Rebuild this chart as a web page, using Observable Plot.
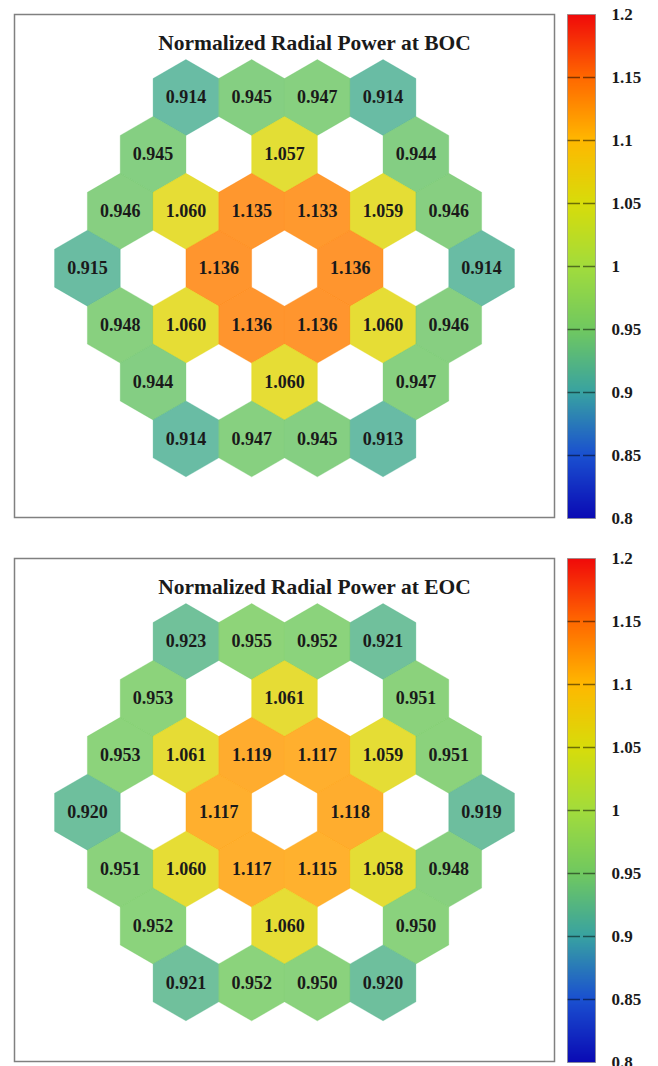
<!DOCTYPE html>
<html>
<head>
<meta charset="utf-8">
<script src="https://cdn.jsdelivr.net/npm/d3@7"></script>
<script src="https://cdn.jsdelivr.net/npm/@observablehq/plot@0.6"></script>
<style>
  html, body { margin: 0; padding: 0; background: #fff; }
  #root { position: relative; width: 658px; height: 1066px; overflow: hidden; }
  .abs { position: absolute; }
  svg { overflow: visible; }
</style>
</head>
<body>
<div id="root"></div>
<script>
// ---------- data ----------
// assembly positions (axial: column offset in hex widths, row offset in hex rows)
const asmCol = [-1.5, -0.5, 0.5, 1.5,
                -2, 0, 2,
                -2.5, -1.5, -0.5, 0.5, 1.5, 2.5,
                -3, -1, 1, 3,
                -2.5, -1.5, -0.5, 0.5, 1.5, 2.5,
                -2, 0, 2,
                -1.5, -0.5, 0.5, 1.5];
const asmRow = [3, 3, 3, 3,
                2, 2, 2,
                1, 1, 1, 1, 1, 1,
                0, 0, 0, 0,
                -1, -1, -1, -1, -1, -1,
                -2, -2, -2,
                -3, -3, -3, -3];
const powerBOC = [0.914, 0.945, 0.947, 0.914,
                  0.945, 1.057, 0.944,
                  0.946, 1.060, 1.135, 1.133, 1.059, 0.946,
                  0.915, 1.136, 1.136, 0.914,
                  0.948, 1.060, 1.136, 1.136, 1.060, 0.946,
                  0.944, 1.060, 0.947,
                  0.914, 0.947, 0.945, 0.913];
const powerEOC = [0.923, 0.955, 0.952, 0.921,
                  0.953, 1.061, 0.951,
                  0.953, 1.061, 1.119, 1.117, 1.059, 0.951,
                  0.920, 1.117, 1.118, 0.919,
                  0.951, 1.060, 1.117, 1.115, 1.058, 0.948,
                  0.952, 1.060, 0.950,
                  0.921, 0.952, 0.950, 0.920];
const titles = ["Normalized Radial Power at BOC", "Normalized Radial Power at EOC"];
const cbTicks = [0.8, 0.85, 0.9, 0.95, 1, 1.05, 1.1, 1.15, 1.2];
const cbTickLabels = ["0.8", "0.85", "0.9", "0.95", "1", "1.05", "1.1", "1.15", "1.2"];
const colorStops = [0.8, 0.85, 0.9, 0.95, 1.0, 1.05, 1.1, 1.15, 1.2];
const colorHexes = ["#0a0ab4", "#1a50d0", "#38a2a2", "#70c860", "#a2dc3c", "#d8dc0a", "#ffb800", "#ff6800", "#f00a0a"];

// ---------- shared settings ----------
const FONT = "'Liberation Serif', 'Times New Roman', serif";
const piece = d3.scaleLinear().domain(colorStops).range(colorHexes).interpolate(d3.interpolateRgb);
const colorOpts = {type: "linear", domain: [0.8, 1.2], interpolate: t => piece(0.8 + 0.4 * t)};

const W = 540, H = 503;          // main frame size
const pxX = 65.7, pxY = 56.9;    // pixels per hex column / row
const cx = 270, cy = 253.7;      // hex centre within the frame
const xDomain = [-cx / pxX, (W - cx) / pxX];
const yDomain = [-(H - cy) / pxY, cy / pxY];
const fmt = d3.format(".3f");

function panel(values, title, top) {
  const data = values.map((v, i) => ({col: asmCol[i], row: asmRow[i], value: v}));
  const main = Plot.plot({
    width: W, height: H,
    marginTop: 0, marginBottom: 0, marginLeft: 0, marginRight: 0,
    x: {domain: xDomain, axis: null},
    y: {domain: yDomain, axis: null},
    color: colorOpts,
    style: {fontFamily: FONT, fontWeight: "bold", background: "transparent"},
    marks: [
      Plot.frame({stroke: "#808080", strokeWidth: 1.5}),
      Plot.dot(data, {x: "col", y: "row", r: pxX / 2, symbol: "hexagon",
        fill: "value", fillOpacity: 0.82, stroke: "value", strokeOpacity: 0.5, strokeWidth: 0.6}),
      Plot.text(data, {x: "col", y: "row", text: d => fmt(d.value), fontSize: 18,
        fill: "#1a1a1a", fontWeight: "bold"}),
      Plot.text([title], {frameAnchor: "top", dx: 30, dy: 29, lineAnchor: "middle", fontSize: 21.5,
        fill: "#1a1a1a", fontWeight: "bold"})
    ]
  });
  main.classList.add("abs");
  main.style.left = "14px";
  main.style.top = top + "px";

  const cbH = 504, pad = 10;
  const cb = Plot.plot({
    width: 28 + 62, height: cbH + 2 * pad,
    marginTop: pad, marginBottom: pad, marginLeft: 0, marginRight: 62,
    x: {domain: [0, 1], axis: null},
    y: {domain: [0.8, 1.2]},
    color: colorOpts,
    style: {fontFamily: FONT, fontWeight: "bold", fontSize: "17px", color: "#1a1a1a", background: "transparent"},
    marks: [
      Plot.raster({fill: (x, y) => y, x1: 0, x2: 1, y1: 0.8, y2: 1.2, width: 2, height: 500}),
      Plot.ruleY(cbTicks.slice(1, -1), {stroke: "#000", strokeOpacity: 0.5, strokeWidth: 1.3, strokeDasharray: "13,3"}),
      Plot.frame({stroke: "#888", strokeOpacity: 0.7}),
      Plot.axisY({anchor: "right", ticks: cbTicks, tickSize: 0, tickPadding: 16,
        tickFormat: (d, i) => cbTickLabels[cbTicks.indexOf(d)], textAnchor: "start",
        fontSize: 17, fill: "#1a1a1a"})
    ]
  });
  cb.classList.add("abs");
  cb.style.left = "567px";
  cb.style.top = (top - pad) + "px";
  return [main, cb];
}

const root = document.getElementById("root");
for (const el of panel(powerBOC, titles[0], 14)) root.appendChild(el);
for (const el of panel(powerEOC, titles[1], 557.5)) root.appendChild(el);
</script>
</body>
</html>
